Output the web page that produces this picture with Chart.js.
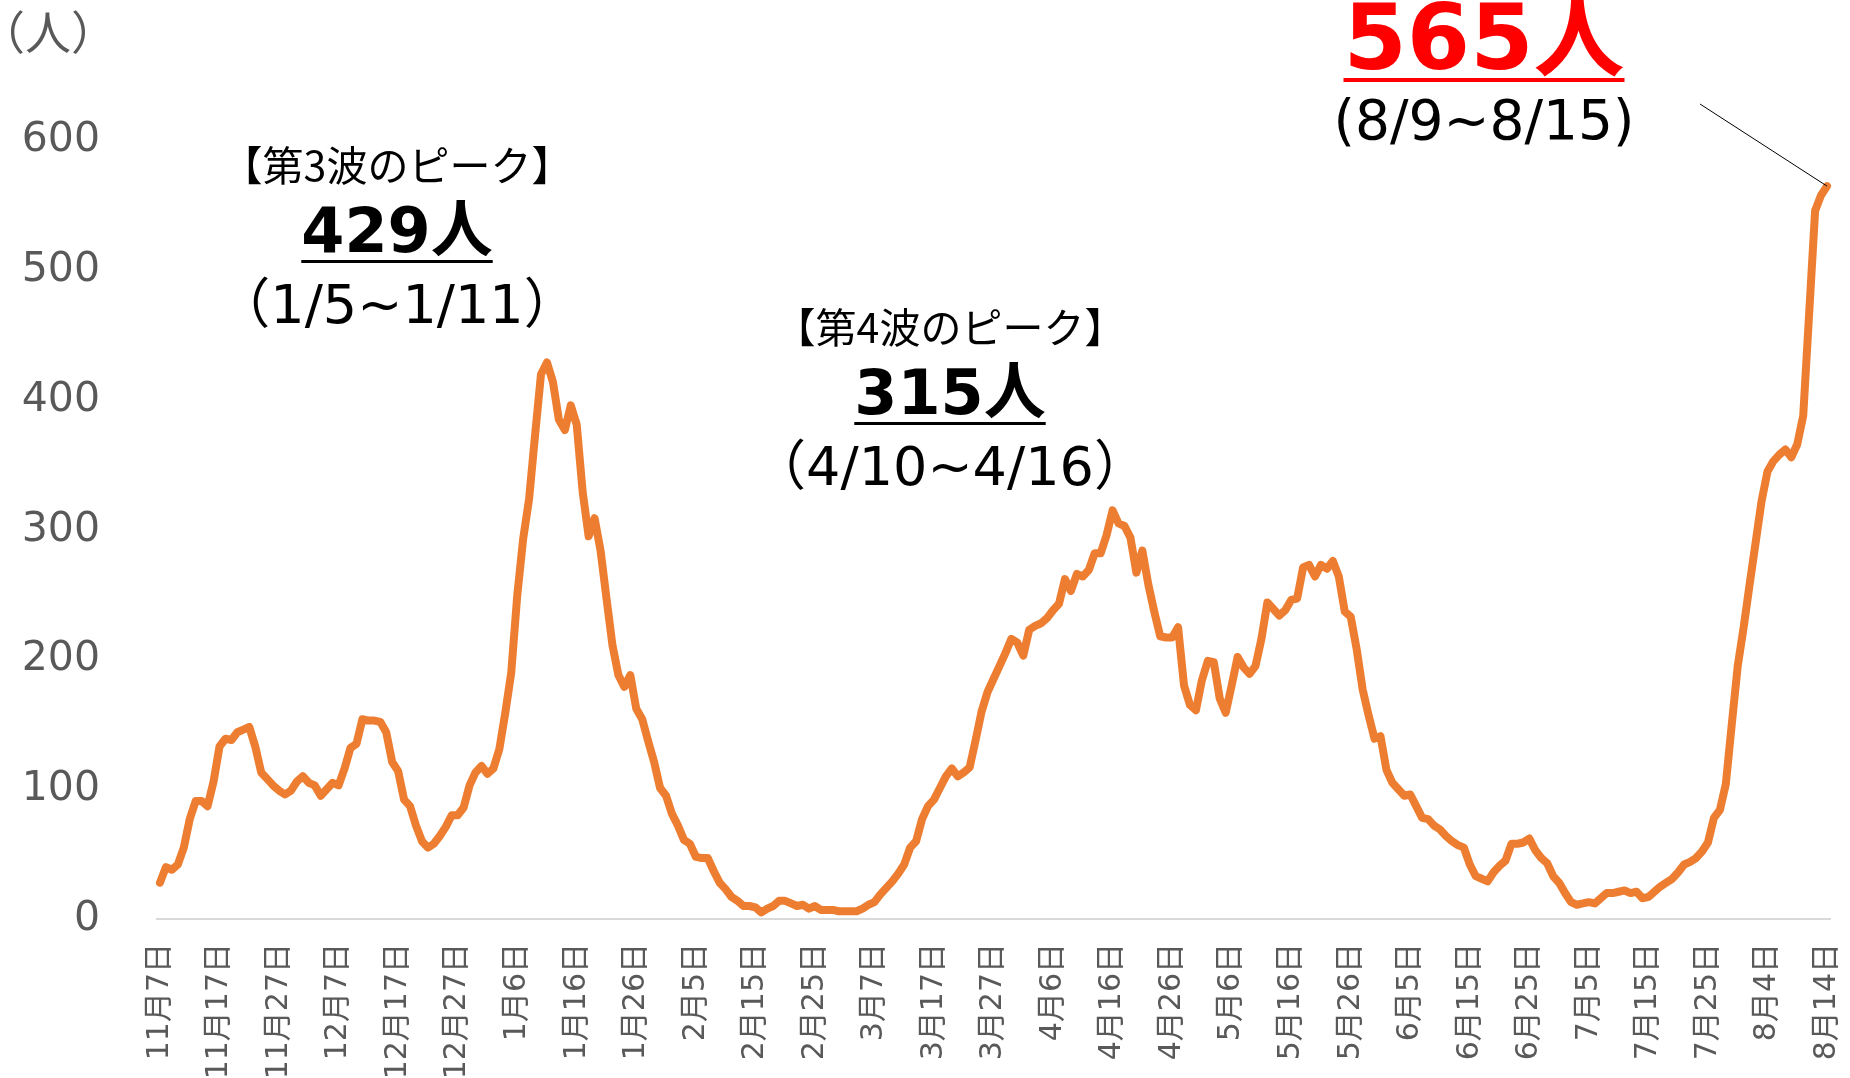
<!DOCTYPE html>
<html>
<head>
<meta charset="utf-8">
<script src="https://cdn.jsdelivr.net/npm/chart.js@4.4.1/dist/chart.umd.min.js"></script>
<style>
  html, body { margin: 0; padding: 0; background: #ffffff; }
  #wrap { width: 1850px; height: 1078px; }
</style>
</head>
<body>
<div id="wrap"><canvas id="chart" width="1850" height="1078"></canvas></div>
<script>
// daily new cases (7-day average), 2020-11-07 .. 2021-08-14
const cases = [
  28, 40, 38, 42, 55, 77, 91, 91, 87, 106,
  133, 139, 138, 144, 146, 148, 133, 113, 108, 103,
  99, 96, 99, 106, 110, 105, 103, 95, 100, 105,
  103, 116, 132, 135, 154, 153, 153, 152, 144, 121,
  114, 92, 87, 72, 60, 55, 58, 64, 71, 80,
  80, 86, 103, 113, 118, 112, 116, 131, 159, 190,
  249, 293, 324, 373, 420, 429, 414, 385, 377, 396,
  381, 329, 295, 309, 284, 247, 211, 188, 179, 188,
  162, 154, 137, 121, 101, 95, 81, 72, 61, 58,
  48, 47, 47, 37, 28, 23, 17, 14, 10, 10,
  9, 5, 8, 10, 14, 14, 12, 10, 11, 8,
  10, 7, 7, 7, 6, 6, 6, 6, 8, 11,
  13, 19, 24, 29, 35, 42, 55, 60, 77, 87,
  92, 101, 110, 116, 110, 113, 117, 138, 160, 175,
  185, 195, 205, 216, 213, 203, 223, 226, 228, 232,
  238, 243, 262, 253, 266, 264, 269, 282, 282, 296,
  315, 305, 303, 294, 267, 284, 258, 237, 218, 217,
  217, 225, 180, 165, 161, 184, 199, 198, 170, 159,
  180, 202, 194, 189, 195, 216, 244, 239, 234, 238,
  246, 247, 271, 273, 264, 273, 270, 276, 264, 237,
  233, 208, 177, 157, 139, 141, 115, 105, 100, 95,
  96, 87, 78, 77, 72, 69, 64, 60, 57, 55,
  42, 33, 31, 29, 36, 41, 45, 58, 58, 59,
  62, 53, 47, 43, 33, 28, 20, 13, 11, 12,
  13, 12, 16, 20, 20, 21, 22, 20, 21, 16,
  17, 21, 25, 28, 31, 36, 42, 44, 47, 52,
  59, 78, 84, 104, 150, 195, 225, 258, 290, 322,
  345, 353, 358, 362, 356, 366, 388, 467, 546, 558,
  565
];

// one category per day
const days = cases.map((_, i) => {
  const d = new Date(2020, 10, 7 + i);
  return (d.getMonth() + 1) + '月' + d.getDate() + '日';
});

const yTickValues = [0, 100, 200, 300, 400, 500, 600];
const yUnit = '（人）';

const peaks = [
  { title: '【第3波のピーク】', value: '429人', period: '（1/5~1/11）', x: 397, y: 165 },
  { title: '【第4波のピーク】', value: '315人', period: '（4/10~4/16）', x: 950, y: 327 }
];
const latest = { value: '565人', period: '(8/9~8/15)' };

const FONT = '"DejaVu Sans", "Noto Sans CJK JP", sans-serif';
const CJK = '"Noto Sans CJK JP", sans-serif';

function centered(ctx, text, x, y, font, color) {
  ctx.font = font;
  ctx.fillStyle = color;
  ctx.textAlign = 'center';
  ctx.textBaseline = 'middle';
  ctx.fillText(text, x, y);
  return ctx.measureText(text).width;
}

const notes = {
  id: 'notes',
  afterDatasetsDraw(chart) {
    const ctx = chart.ctx;
    ctx.save();

    centered(ctx, yUnit, 48, 32, '46px ' + CJK, '#595959');

    peaks.forEach(p => {
      centered(ctx, p.title, p.x, p.y, '41px ' + CJK, '#000000');
      const w = centered(ctx, p.value, p.x, p.y + 71, 'bold 62px ' + FONT, '#000000');
      ctx.fillRect(p.x - w / 2, p.y + 95, w, 3);
      centered(ctx, p.period, p.x, p.y + 144, '54px ' + FONT, '#000000');
    });

    // latest week
    ctx.font = 'bold 91px ' + FONT;
    ctx.fillStyle = '#ff0000';
    ctx.textAlign = 'center';
    ctx.textBaseline = 'alphabetic';
    ctx.fillText(latest.value, 1484, 69);
    const w = ctx.measureText(latest.value).width;
    ctx.fillRect(1484 - w / 2, 78, w, 4);
    centered(ctx, latest.period, 1484, 125, '55px ' + FONT, '#000000');

    // leader line to the last point
    const last = chart.getDatasetMeta(0).data[cases.length - 1];
    ctx.strokeStyle = '#000000';
    ctx.lineWidth = 1;
    ctx.beginPath();
    ctx.moveTo(1700, 104);
    ctx.lineTo(last.x, last.y);
    ctx.stroke();

    ctx.restore();
  }
};

new Chart(document.getElementById('chart'), {
  type: 'line',
  data: {
    labels: days,
    datasets: [{
      data: cases,
      borderColor: '#ed7d31',
      borderWidth: 8,
      borderJoinStyle: 'round',
      borderCapStyle: 'round',
      pointRadius: 0,
      tension: 0,
      fill: false
    }]
  },
  options: {
    responsive: false,
    animation: false,
    devicePixelRatio: 1,
    layout: { padding: { top: 11, right: 20, left: 0, bottom: 0 } },
    plugins: {
      legend: { display: false },
      tooltip: { enabled: false }
    },
    scales: {
      x: {
        offset: true,
        grid: { display: false, drawTicks: false },
        border: { display: true, color: '#d9d9d9', width: 2 },
        ticks: {
          autoSkip: false,
          minRotation: 90,
          maxRotation: 90,
          padding: 24,
          color: '#595959',
          font: { family: FONT, size: 30 },
          callback: (value, index) => index % 10 === 0 ? days[index] : null
        },
        afterFit: s => { s.height = 159; s.paddingLeft = 0; s.paddingRight = 0; }
      },
      y: {
        min: 0,
        max: 700,
        grid: { display: false, drawTicks: false },
        border: { display: false },
        afterBuildTicks: s => { s.ticks = yTickValues.map(v => ({ value: v })).concat([{ value: 700 }]); },
        ticks: {
          padding: 57,
          color: '#595959',
          font: { family: FONT, size: 41 },
          callback: v => yTickValues.includes(v) ? String(v) : null
        },
        afterFit: s => { s.width = 157; s.paddingTop = 0; s.paddingBottom = 0; }
      }
    }
  },
  plugins: [notes]
});
</script>
</body>
</html>
